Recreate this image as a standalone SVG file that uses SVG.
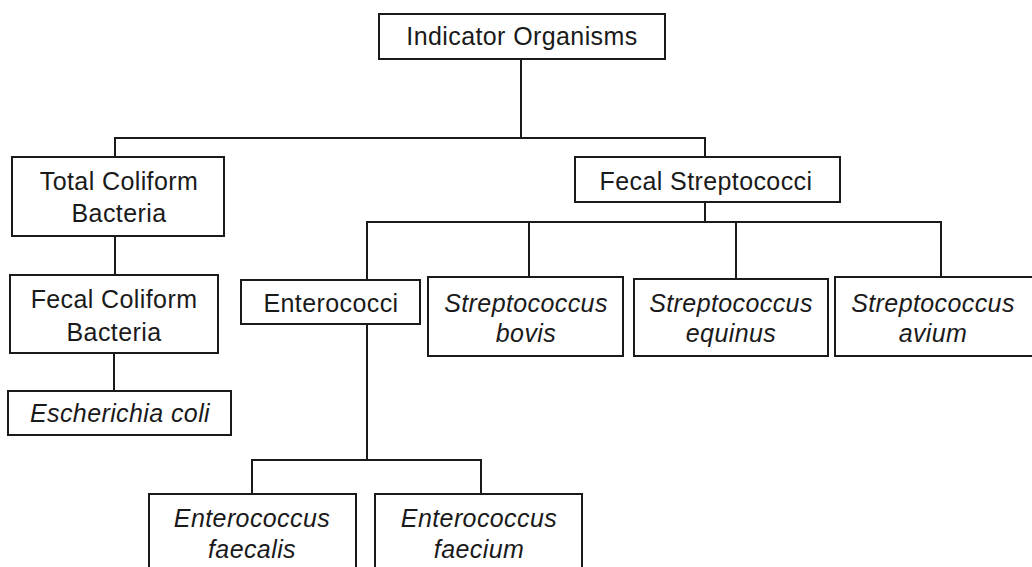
<svg xmlns="http://www.w3.org/2000/svg" width="1032" height="567" viewBox="0 0 1032 567">
<style>
.box{fill:#fff;stroke:#1a1a1a;stroke-width:2}
.t{font-family:"Liberation Sans",Arial,sans-serif;font-size:25px;letter-spacing:0.4px;fill:#1a1a1a;text-anchor:middle}
.i{font-style:italic}
.c{fill:none;stroke:#1a1a1a;stroke-width:2}
</style>
<rect width="1032" height="567" fill="#fff"/>
<g id="connectors">
<path class="c" d="M521 59V138M115 157V138H705V157"/>
<path class="c" d="M115 236V275M114 353V391"/>
<path class="c" d="M705 202V222M367 280V222H941V277M529 222V277M736 222V279"/>
<path class="c" d="M367 324V460M252 494V460H481V494"/>
</g>
<g id="n-indicator"><rect class="box" x="379" y="14" width="286" height="45"/><text class="t" x="522" y="45">Indicator Organisms</text></g>
<g id="n-total"><rect class="box" x="12" y="157" width="212" height="79"/><text class="t" x="119" y="190">Total Coliform</text><text class="t" x="119" y="222">Bacteria</text></g>
<g id="n-fecalstrep"><rect class="box" x="575" y="157" width="265" height="45"/><text class="t" x="706" y="190">Fecal Streptococci</text></g>
<g id="n-fecalcoli"><rect class="box" x="10" y="275" width="208" height="78"/><text class="t" x="114" y="308">Fecal Coliform</text><text class="t" x="114" y="341">Bacteria</text></g>
<g id="n-ecoli"><rect class="box" x="8" y="391" width="223" height="44"/><text class="t i" x="120" y="422">Escherichia coli</text></g>
<g id="n-enterococci"><rect class="box" x="241" y="280" width="179" height="44"/><text class="t" x="331" y="312">Enterococci</text></g>
<g id="n-bovis"><rect class="box" x="428" y="277" width="195" height="79"/><text class="t i" x="526" y="312">Streptococcus</text><text class="t i" x="526" y="342">bovis</text></g>
<g id="n-equinus"><rect class="box" x="634" y="279" width="194" height="77"/><text class="t i" x="731" y="312">Streptococcus</text><text class="t i" x="731" y="342">equinus</text></g>
<g id="n-avium"><rect class="box" x="835" y="277" width="200" height="79"/><text class="t i" x="933" y="312">Streptococcus</text><text class="t i" x="933" y="342">avium</text></g>
<g id="n-faecalis"><rect class="box" x="149" y="494" width="207" height="90"/><text class="t i" x="252" y="527">Enterococcus</text><text class="t i" x="252" y="558">faecalis</text></g>
<g id="n-faecium"><rect class="box" x="375" y="494" width="207" height="90"/><text class="t i" x="479" y="527">Enterococcus</text><text class="t i" x="479" y="558">faecium</text></g>
</svg>
